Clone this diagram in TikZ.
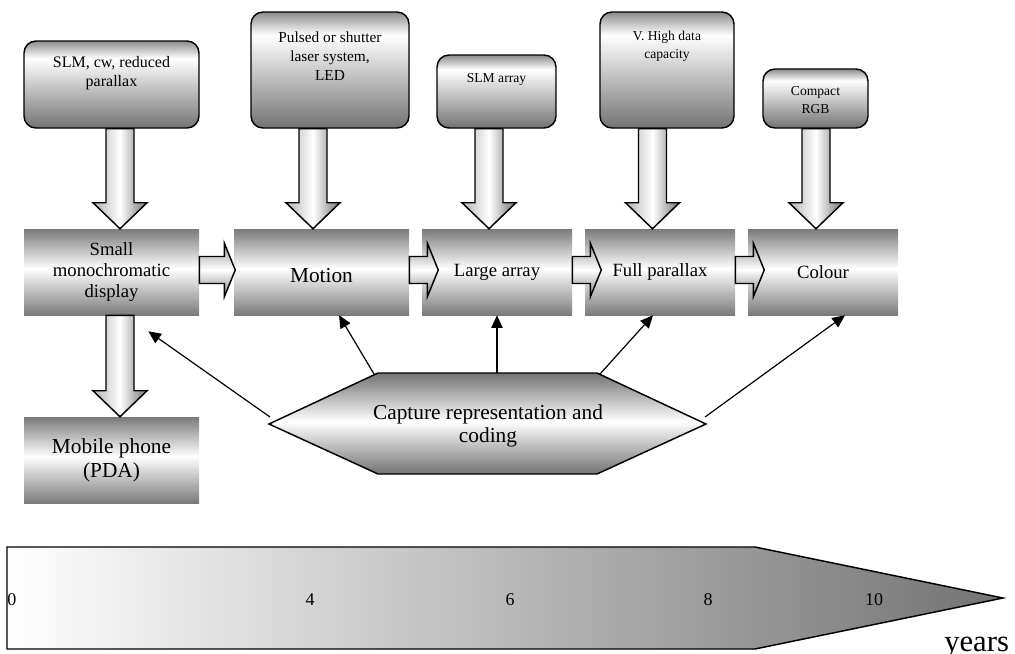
\documentclass[tikz,border=0pt]{standalone}
\usepackage{fontspec}
\setmainfont{Liberation Serif}
\usetikzlibrary{arrows.meta,calc}

% vertical shadings, the shape spans 25bp..75bp (flipped by yscale=-1, so 25bp is the top)
\pgfdeclareverticalshading{boxshade}{100bp}{color(0bp)=(black!55); color(25bp)=(black!55); color(65bp)=(white); color(75bp)=(black!45); color(100bp)=(black!45)}
\pgfdeclareverticalshading{rowshade}{100bp}{color(0bp)=(black!52); color(25bp)=(black!52); color(52bp)=(white); color(75bp)=(black!52); color(100bp)=(black!52)}
\pgfdeclareverticalshading{hexshade}{100bp}{color(0bp)=(black!55); color(25bp)=(black!55); color(51bp)=(white); color(75bp)=(black!55); color(100bp)=(black!55)}

\tikzset{
	topbox/.style={draw, line width=1.1pt, rounded corners=9pt, shade, shading=boxshade, inner sep=0pt},
	toptxt/.style={align=center, inner sep=0pt},
	rowbox/.style={shade, shading=rowshade, minimum height=64.5pt, align=center, inner sep=0pt},
	fatarrow/.style={draw, line width=1.1pt, left color=black!30, right color=black!55, middle color=white},
	fatright/.style={draw, line width=1.1pt, top color=black!40, bottom color=black!50, middle color=white},
	capshape/.style={draw, line width=1.1pt, shading=hexshade},
	link/.style={line width=0.9pt, -{Triangle[length=9.5pt,width=8.5pt]}},
	tick/.style={inner sep=0pt, font=\fontsize{13.5}{16}\selectfont},
}

% fat arrow pointing down: from node, to node, x offset
\newcommand{\fatdown}[3]{%
	\coordinate (fa) at ($(#1.south)+(#3,0)$);
	\coordinate (fb) at (fa |- #2.north);
	\shadedraw[fatarrow] ($(fa)+(-14,0)$) -- ($(fb)+(-14,-26)$) -- ($(fb)+(-27,-26)$) -- (fb) -- ($(fb)+(27,-26)$) -- ($(fb)+(14,-26)$) -- ($(fa)+(14,0)$) -- cycle;
}
% fat arrow pointing right: from node, length
\newcommand{\fatright}[2]{%
	\coordinate (ra) at ($(#1.east)+(0,-2)$);
	\shadedraw[fatright] ($(ra)+(0,-13.5)$) -- ($(ra)+(#2-11,-13.5)$) -- ($(ra)+(#2-11,-27)$) -- ($(ra)+(#2,0)$) -- ($(ra)+(#2-11,27)$) -- ($(ra)+(#2-11,13.5)$) -- ($(ra)+(0,13.5)$) -- cycle;
}

\begin{document}
\begin{tikzpicture}[x=0.75pt,y=0.75pt,yscale=-1,xscale=1]
	\useasboundingbox (0,0) rectangle (1015,654);
	
	% requirement boxes
	\node[topbox, minimum width=131.25pt, minimum height=65.25pt] (slm) at (111.5,84.5) {};
	\node[toptxt, font=\fontsize{12}{14.5}\selectfont] (slmtxt) at ($(slm.north)+(0,33)$) {SLM, cw, reduced\\parallax};
	\node[topbox, minimum width=118.5pt, minimum height=87pt] (pulsed) at (330,70) {};
	\node[toptxt, font=\fontsize{11.5}{14}\selectfont] (pulsedtxt) at ($(pulsed.north)+(0,45)$) {Pulsed or shutter\\laser system,\\LED};
	\node[topbox, minimum width=89.25pt, minimum height=54.75pt] (slmarr) at (496.5,91.5) {};
	\node[toptxt, font=\fontsize{10.2}{14}\selectfont] (slmarrtxt) at ($(slmarr.north)+(0,25)$) {SLM array};
	\node[topbox, minimum width=100.5pt, minimum height=87pt] (vhigh) at (667,70) {};
	\node[toptxt, font=\fontsize{10.2}{14}\selectfont] (vhightxt) at ($(vhigh.north)+(0,35)$) {V. High data\\capacity};
	\node[topbox, minimum width=78.75pt, minimum height=44.25pt] (compact) at (815.5,98.5) {};
	\node[toptxt, font=\fontsize{10.2}{13.5}\selectfont] (compacttxt) at ($(compact.north)+(0,32)$) {Compact\\RGB};
	
	% stages
	\node[rowbox, minimum width=131.25pt, font=\fontsize{14}{16}\selectfont] (small) at (111.5,272) {Small\\monochromatic\\display};
	\node[rowbox, minimum width=131.25pt, font=\fontsize{16}{18}\selectfont, text height=15pt, text depth=0pt] (motion) at (321.5,272) {Motion};
	\node[rowbox, minimum width=112.5pt, font=\fontsize{14}{16}\selectfont] (large) at (497,272) {Large array};
	\node[rowbox, minimum width=112.5pt, font=\fontsize{14}{16}\selectfont] (full) at (660,272) {Full parallax};
	\node[rowbox, minimum width=112.5pt, font=\fontsize{14}{16}\selectfont] (colour) at (823,272) {Colour};
	\node[rowbox, minimum width=131.25pt, font=\fontsize{16}{18}\selectfont] (mobile) at (111.5,460) {Mobile phone\\(PDA)};
	
	% fat arrows
	\fatdown{slm}{small}{8.5}
	\fatdown{pulsed}{motion}{-17}
	\fatdown{slmarr}{large}{-7.5}
	\fatdown{vhigh}{full}{-14.5}
	\fatdown{compact}{colour}{0.5}
	\fatdown{small}{mobile}{8.5}
	\fatright{small}{36}
	\fatright{motion}{29}
	\fatright{large}{29}
	\fatright{full}{29}
	
	% capture
	\coordinate (capL) at (269,424);
	\coordinate (capTL) at (378,373);
	\coordinate (capTR) at (597,373);
	\coordinate (capR) at (706,424);
	\coordinate (capBR) at (597,474);
	\coordinate (capBL) at (378,474);
	\shadedraw[capshape] (capL) -- (capTL) -- (capTR) -- (capR) -- (capBR) -- (capBL) -- cycle;
	\node[toptxt, font=\fontsize{16}{17.5}\selectfont] (cap) at (488,426) {Capture representation and\\coding};
	
	\draw[link] ($(capL)+(1,-7)$) -- ($(small.south east)+(-51,16)$);
	\draw[link] ($(capTL)+(-4,1)$) -- ($(motion.south)+(17.5,0)$);
	\draw[link] (large.south |- capTL) -- (large.south);
	\draw[link] ($(capTR)+(3,1)$) -- ($(full.south)+(-7,0)$);
	\draw[link] ($(capR)+(-1,-7)$) -- ($(colour.south)+(22,0)$);
	
	% time line
	\shade[left color=white, right color=black!55] (7,547) -- (755,547) -- (1003,598) -- (755,649) -- (7,649) -- cycle;
	\node[tick] (t0) at (12,600) {0};
	\node[tick] (t4) at (310,600) {4};
	\node[tick] (t6) at (510,600) {6};
	\node[tick] (t8) at (708,600) {8};
	\node[tick] (t10) at (874,600) {10};
	\draw[line width=1.1pt] (7,547) -- (755,547) -- (1003,598) -- (755,649) -- (7,649) -- cycle;
	\node[inner sep=0pt, anchor=base west, font=\fontsize{23}{27}\selectfont] (years) at (944,651) {years};
	
\end{tikzpicture}
\end{document}
